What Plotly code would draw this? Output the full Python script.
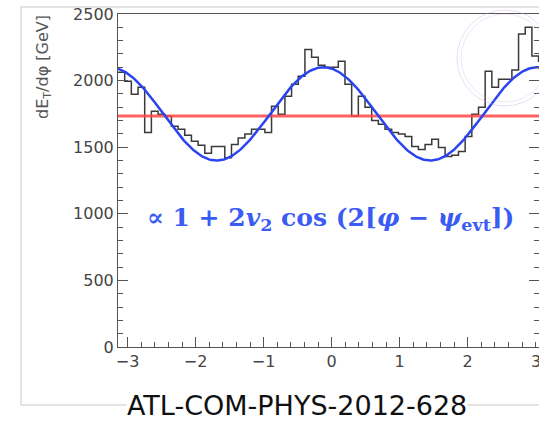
import numpy as np
import plotly.graph_objects as go

# ---- data ----
n_bins = 64
phi_min, phi_max = -np.pi, np.pi
dEt_dphi = [2063, 1995, 1898, 1950, 1611, 1770, 1747, 1732, 1657, 1634,
            1589, 1544, 1514, 1455, 1506, 1506, 1420, 1520, 1570, 1600,
            1634, 1634, 1611, 1807, 1747, 1883, 1973, 2033, 2233, 2176,
            2115, 2100, 2100, 2146, 1973, 1732, 1883, 1800, 1700, 1672,
            1634, 1611, 1600, 1581, 1506, 1483, 1521, 1559, 1498, 1431,
            1440, 1468, 1581, 1747, 1800, 2071, 1950, 2010, 2010, 2080,
            2349, 2400, 2184, 2146]
mean_level = 1735          # red horizontal line
fit_mean = 1750            # fit parameters
fit_v2 = 0.10
fit_psi = -0.12
x_ticks = [-3, -2, -1, 0, 1, 2]
x_tick_cut = 3
y_ticks = [0, 500, 1000, 1500, 2000, 2500]

edges = np.linspace(phi_min, phi_max, n_bins + 1)
hist_y = list(dEt_dphi) + [dEt_dphi[-1]]

phi = np.linspace(phi_min, phi_max, 400)
fit = fit_mean * (1 + 2 * fit_v2 * np.cos(2 * (phi - fit_psi)))

fig = go.Figure()
fig.add_trace(go.Scatter(x=edges, y=hist_y, mode="lines", line_shape="hv",
                         line=dict(color="#3a3a3a", width=1.5), showlegend=False))
fig.add_trace(go.Scatter(x=[phi_min, phi_max], y=[mean_level, mean_level], mode="lines",
                         line=dict(color="rgba(255,70,70,0.85)", width=3), showlegend=False))
fig.add_trace(go.Scatter(x=phi, y=fit, mode="lines",
                         line=dict(color="#2a45f0", width=2.5), showlegend=False))

W, H = 539, 422
L, R, T, B = 118, 0, 14, 75
pw, ph = W - L - R, H - T - B
xscale = 68.0
x_right = phi_min + pw / xscale

def px(xp):
    return (xp - L) / pw

def py(yp):
    return (H - B - yp) / ph

tickfont = dict(family="DejaVu Sans", size=16, color="#444")
axis_common = dict(showline=True, linecolor="#555", linewidth=1,
                   ticks="inside", tickcolor="#555", ticklen=10,
                   showgrid=False, zeroline=False, tickfont=tickfont)
fig.update_xaxes(range=[phi_min, x_right], tickvals=x_ticks, mirror=True,
                 minor=dict(ticks="inside", ticklen=5, dtick=0.2, tickcolor="#555"),
                 **axis_common)
fig.update_yaxes(range=[0, 2500], tickvals=y_ticks, mirror="ticks",
                 minor=dict(ticks="inside", ticklen=5, dtick=100, tickcolor="#555"),
                 **axis_common)

shapes = [
    dict(type="rect", xref="paper", yref="paper", x0=px(21), x1=px(560), y0=py(405), y1=py(7),
         line=dict(color="#c8c8c8", width=1), layer="below"),
    dict(type="circle", xref="paper", yref="paper", x0=px(457), x1=px(553), y0=py(106), y1=py(10),
         line=dict(color="rgba(200,170,225,0.4)", width=1)),
    dict(type="circle", xref="paper", yref="paper", x0=px(461), x1=px(549), y0=py(102), y1=py(14),
         line=dict(color="rgba(200,170,225,0.3)", width=1)),
]

annotations = [
    dict(text=str(x_tick_cut), xref="x", yref="paper", x=x_tick_cut, y=py(350),
         xanchor="center", yanchor="top", showarrow=False, font=tickfont),
    dict(text="dE<sub>T</sub>/dφ [GeV]", xref="paper", yref="paper", x=px(44), y=py(13),
         xanchor="center", yanchor="top", textangle=-90, showarrow=False,
         font=dict(family="DejaVu Sans", size=16, color="#555")),
    dict(text="ATL-COM-PHYS-2012-628", xref="paper", yref="paper", x=px(297), y=py(405),
         xanchor="center", yanchor="middle", showarrow=False, bgcolor="white", borderpad=0,
         font=dict(family="DejaVu Sans", size=27, color="#111")),
    dict(text="<b>∝ 1 + 2<i>v</i><sub>2</sub> cos (2[<i>φ</i> − <i>ψ</i><sub>evt</sub>])</b>",
         xref="paper", yref="paper", x=px(330), y=py(219), xanchor="center", yanchor="middle",
         showarrow=False, font=dict(family="DejaVu Serif", size=25, color="#3b5bf5")),
]

fig.update_layout(width=W, height=H, margin=dict(l=L, r=R, t=T, b=B),
                  plot_bgcolor="white", paper_bgcolor="white",
                  shapes=shapes, annotations=annotations, showlegend=False)

fig.write_html("out.html")
